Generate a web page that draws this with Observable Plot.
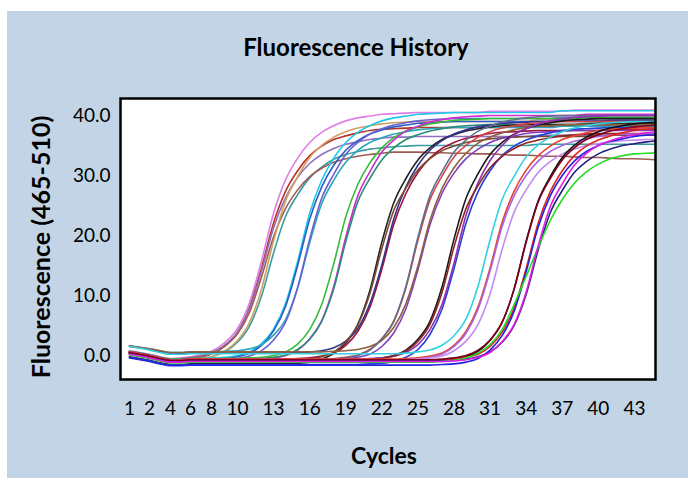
<!DOCTYPE html>
<html><head><meta charset="utf-8">
<script src="https://cdn.jsdelivr.net/npm/d3@7"></script>
<script src="https://cdn.jsdelivr.net/npm/@observablehq/plot@0.6"></script>
<style>
html,body{margin:0;padding:0;background:#fff;}
#wrap{position:relative;width:688px;height:481px;overflow:hidden;font-family:Lato,"DejaVu Sans",sans-serif;}
#panel{position:absolute;left:7px;top:11px;width:681px;height:467px;background:#c2d4e6;}
#chart{position:absolute;left:0;top:0;}
.lbl{position:absolute;font-weight:bold;color:#000;white-space:nowrap;line-height:1;}
#title{left:356px;top:47px;font-size:24px;transform:translate(-50%,-50%);}
#xlabel{left:384px;top:455px;font-size:23px;transform:translate(-50%,-50%);}
#ylabel{left:40px;top:247px;font-size:25px;transform:translate(-50%,-50%) rotate(-90deg);}
</style></head><body>
<div id="wrap"><div id="panel"></div><div id="chart"></div>
<div class="lbl" id="title">Fluorescence History</div>
<div class="lbl" id="xlabel">Cycles</div>
<div class="lbl" id="ylabel">Fluorescence (465-510)</div>
</div>
<script>
const cycles = [1,2,3,4,5,6,7,8,9,10,11,12,13,14,15,16,17,18,19,20,21,22,23,24,25,26,27,28,29,30,31,32,33,34,35,36,37,38,39,40,41,42,43,44,45];
const cycleTicks = [1,2,4,6,8,10,13,16,19,22,25,28,31,34,37,40,43];
const yTicks = [0,10,20,30,40];

const w01 = [0.8,0.2,-0.2,-0.5,-0.4,-0.2,0.1,0.7,2.1,4.5,8.8,15.8,23.7,29.3,32.9,35.5,37.2,38.3,39.1,39.6,39.9,40.2,40.3,40.4,40.5,40.5,40.5,40.5,40.5,40.5,40.7,40.7,40.7,40.7,40.7,40.7,40.7,40.9,40.9,40.9,40.9,40.9,40.9,40.9,40.9];
const w02 = [0.5,-0.1,-0.5,-0.8,-0.7,-0.5,-0.2,0.3,1.6,3.9,8.0,14.6,22.1,27.4,30.8,33.3,34.9,36.0,36.6,37.1,37.5,37.7,37.8,37.9,38.0,38.0,38.0,38.0,38.0,38.0,38.0,38.0,38.2,38.2,38.2,38.2,38.2,38.2,38.2,38.4,38.4,38.4,38.4,38.4,38.4];
const w03 = [0.7,0.1,-0.3,-0.6,-0.5,-0.3,-0.1,0.5,1.7,3.9,7.8,14.1,21.3,26.3,29.7,32.0,33.5,34.5,35.2,35.6,36.0,36.2,36.4,36.4,36.5,36.5,36.5,36.5,36.5,36.5,36.5,36.5,36.5,36.5,36.7,36.7,36.7,36.7,36.7,36.7,36.7,36.7,36.7,36.7,36.7];
const w04 = [0.4,-0.2,-0.6,-0.9,-0.9,-0.7,-0.5,-0.2,0.6,2.2,4.9,9.9,17.1,23.2,26.8,29.6,31.4,32.7,33.5,34.0,34.4,34.6,34.8,34.9,35.0,35.0,35.0,35.0,35.0,35.0,35.0,35.0,35.0,35.0,35.2,35.2,35.2,35.2,35.2,35.2,35.2,35.2,35.2,35.2,35.2];
const w05 = [0.6,0.0,-0.4,-0.7,-0.6,-0.4,-0.2,0.3,1.5,3.6,7.2,13.1,19.8,24.5,27.6,29.8,31.2,32.2,32.8,33.2,33.5,33.7,33.9,33.9,33.9,33.8,33.8,33.7,33.7,33.6,33.6,33.5,33.4,33.4,33.3,33.2,33.2,33.1,33.0,33.0,32.9,32.8,32.8,32.7,32.6];
const w06 = [0.3,-0.3,-0.7,-1.0,-1.0,-0.8,-0.6,-0.2,0.7,2.5,5.5,11.1,19.1,25.8,29.8,33.0,35.0,36.4,37.3,37.9,38.3,38.6,38.8,38.9,39.0,39.0,39.0,39.0,39.0,39.0,39.0,39.0,39.0,39.0,39.3,39.3,39.3,39.3,39.3,39.3,39.3,39.3,39.3,39.3,39.3];
const w07 = [0.7,0.1,-0.3,-0.6,-0.6,-0.5,-0.5,-0.4,-0.3,0.0,0.6,2.0,4.4,8.7,15.7,23.7,29.2,32.9,35.5,37.2,38.3,39.1,39.6,39.9,40.2,40.3,40.4,40.5,40.5,40.5,40.5,40.5,40.5,40.5,40.5,40.5,40.8,40.8,40.8,40.8,40.8,40.8,40.8,40.8,40.8];
const w08 = [0.5,-0.1,-0.5,-0.8,-0.8,-0.7,-0.7,-0.6,-0.5,-0.2,0.4,1.7,4.1,8.2,15.0,22.7,28.1,31.7,34.2,35.8,36.9,37.6,38.1,38.4,38.7,38.8,38.9,39.0,39.0,39.0,39.0,39.0,39.0,39.0,39.0,39.0,39.2,39.2,39.2,39.2,39.2,39.2,39.2,39.2,39.2];
const w09 = [1.6,1.1,0.8,0.5,0.5,0.6,0.6,0.6,0.7,0.8,1.1,1.8,3.4,6.0,11.3,18.8,25.3,29.2,32.2,34.2,35.5,36.3,36.9,37.3,37.6,37.8,37.9,38.0,38.0,38.0,38.0,38.0,38.0,38.0,38.0,38.0,38.2,38.2,38.2,38.2,38.2,38.2,38.2,38.2,38.2];
const w10 = [0.4,-0.2,-0.6,-0.9,-0.9,-0.8,-0.8,-0.8,-0.7,-0.5,-0.1,0.8,2.6,5.6,11.3,19.4,26.2,30.2,33.5,35.5,36.9,37.8,38.4,38.8,39.1,39.3,39.4,39.5,39.5,39.5,39.5,39.5,39.5,39.5,39.5,39.5,39.7,39.7,39.7,39.7,39.7,39.7,39.7,39.7,39.7];
const w11 = [0.7,0.1,-0.3,-0.6,-0.6,-0.5,-0.5,-0.5,-0.5,-0.5,-0.4,-0.3,0.0,0.6,1.9,4.3,8.5,15.3,23.1,28.5,32.1,34.6,36.3,37.4,38.1,38.6,38.9,39.2,39.3,39.4,39.5,39.5,39.5,39.5,39.5,39.5,39.5,39.5,39.7,39.7,39.7,39.7,39.7,39.7,39.7];
const w12 = [0.5,-0.1,-0.5,-0.8,-0.8,-0.7,-0.7,-0.7,-0.7,-0.7,-0.7,-0.6,-0.4,0.0,0.9,2.8,5.8,11.5,19.7,26.6,30.6,33.9,35.9,37.4,38.2,38.9,39.3,39.6,39.8,39.9,40.0,40.0,40.0,40.0,40.0,40.0,40.0,40.0,40.2,40.2,40.2,40.2,40.2,40.2,40.2];
const w13 = [0.6,0.0,-0.4,-0.7,-0.7,-0.6,-0.6,-0.6,-0.6,-0.6,-0.6,-0.5,-0.3,0.1,1.0,2.7,5.7,11.1,19.0,25.6,29.5,32.6,34.6,36.0,36.8,37.4,37.8,38.1,38.3,38.4,38.5,38.5,38.5,38.5,38.5,38.5,38.5,38.5,38.7,38.7,38.7,38.7,38.7,38.7,38.7];
const w14 = [-0.2,-0.8,-1.2,-1.5,-1.5,-1.4,-1.4,-1.4,-1.4,-1.4,-1.4,-1.4,-1.4,-1.4,-1.3,-1.1,-0.6,0.3,2.1,5.2,10.8,18.9,25.5,29.5,32.6,34.6,36.0,36.8,37.4,37.8,38.1,38.3,38.4,38.5,38.5,38.5,38.5,38.5,38.5,38.7,38.7,38.7,38.7,38.7,38.7];
const w15 = [0.6,0.0,-0.4,-0.7,-0.7,-0.6,-0.6,-0.6,-0.6,-0.6,-0.6,-0.6,-0.6,-0.6,-0.5,-0.4,-0.1,0.4,1.7,4.0,8.0,14.4,21.9,27.0,30.5,32.9,34.5,35.5,36.2,36.6,37.0,37.2,37.3,37.4,37.5,37.5,37.5,37.5,37.5,37.5,37.7,37.7,37.7,37.7,37.7];
const w16 = [1.5,1.0,0.6,0.3,0.3,0.4,0.4,0.4,0.4,0.4,0.4,0.4,0.4,0.4,0.5,0.6,0.8,1.3,2.4,4.5,8.6,15.1,22.8,28.1,31.7,34.2,35.8,36.9,37.6,38.1,38.4,38.7,38.8,38.9,39.0,39.0,39.0,39.0,39.0,39.0,39.2,39.2,39.2,39.2,39.2];
const w17 = [0.3,-0.3,-0.7,-1.0,-1.0,-0.9,-0.9,-0.9,-0.9,-0.9,-0.9,-0.9,-0.9,-0.9,-0.8,-0.6,-0.2,0.6,2.3,5.1,10.3,17.8,24.2,27.9,30.9,32.8,34.1,34.9,35.5,35.8,36.1,36.3,36.4,36.5,36.5,36.5,36.5,36.5,36.5,36.7,36.7,36.7,36.7,36.7,36.7];
const w18 = [0.6,0.0,-0.4,-0.7,-0.7,-0.6,-0.6,-0.6,-0.6,-0.6,-0.6,-0.6,-0.6,-0.6,-0.6,-0.6,-0.6,-0.5,-0.3,0.1,1.0,2.8,5.7,11.3,19.2,25.9,29.9,33.1,35.0,36.4,37.3,37.9,38.3,38.6,38.8,38.9,39.0,39.0,39.0,39.0,39.0,39.0,39.0,39.0,39.0];
const w19 = [0.4,-0.2,-0.6,-0.9,-0.9,-0.8,-0.8,-0.8,-0.8,-0.8,-0.8,-0.8,-0.8,-0.8,-0.8,-0.8,-0.8,-0.7,-0.6,-0.3,0.2,1.5,3.8,7.8,14.3,21.8,27.0,30.4,32.8,34.4,35.5,36.2,36.6,37.0,37.2,37.3,37.4,37.5,37.5,37.5,37.5,37.5,37.5,37.5,37.5];
const w20 = [1.6,1.1,0.8,0.5,0.5,0.6,0.6,0.6,0.6,0.6,0.6,0.6,0.6,0.6,0.6,0.6,0.6,0.7,0.8,1.0,1.5,2.5,4.7,8.6,14.9,22.5,27.8,31.3,33.7,35.4,36.4,37.1,37.6,38.0,38.2,38.3,38.4,38.5,38.5,38.5,38.5,38.5,38.5,38.5,38.5];
const w21 = [0.5,-0.1,-0.5,-0.8,-0.8,-0.7,-0.7,-0.7,-0.7,-0.7,-0.7,-0.7,-0.7,-0.7,-0.7,-0.7,-0.7,-0.6,-0.4,0.0,0.9,2.8,5.8,11.5,19.7,26.6,30.6,33.9,35.9,37.4,38.2,38.9,39.3,39.6,39.8,39.9,40.0,40.0,40.0,40.0,40.0,40.0,40.0,40.0,40.0];
const w22 = [0.5,-0.1,-0.5,-0.8,-0.8,-0.7,-0.7,-0.7,-0.7,-0.7,-0.7,-0.7,-0.7,-0.7,-0.7,-0.7,-0.7,-0.7,-0.7,-0.7,-0.6,-0.4,0.0,0.9,2.7,5.7,11.4,19.4,26.2,30.3,33.5,35.5,36.9,37.8,38.4,38.8,39.1,39.3,39.4,39.5,39.5,39.5,39.5,39.5,39.5];
const w23 = [-0.3,-0.9,-1.3,-1.6,-1.6,-1.5,-1.5,-1.5,-1.5,-1.5,-1.5,-1.5,-1.5,-1.5,-1.5,-1.5,-1.5,-1.5,-1.5,-1.5,-1.4,-1.3,-1.0,-0.3,1.0,3.5,7.7,14.5,22.1,27.3,30.8,33.3,34.9,35.9,36.6,37.1,37.5,37.7,37.8,37.9,38.0,38.0,38.0,38.0,38.0];
const w24 = [0.6,0.0,-0.4,-0.7,-0.7,-0.6,-0.6,-0.6,-0.6,-0.6,-0.6,-0.6,-0.6,-0.6,-0.6,-0.6,-0.6,-0.6,-0.6,-0.6,-0.5,-0.4,-0.1,0.5,1.8,4.3,8.5,15.4,23.4,28.8,32.5,35.0,36.8,37.8,38.6,39.1,39.4,39.7,39.8,39.9,40.0,40.0,40.0,40.0,40.0];
const w25 = [0.4,-0.2,-0.6,-0.9,-0.9,-0.8,-0.8,-0.8,-0.8,-0.8,-0.8,-0.8,-0.8,-0.8,-0.8,-0.8,-0.8,-0.8,-0.8,-0.8,-0.7,-0.5,-0.1,0.7,2.4,5.2,10.5,18.1,24.5,28.3,31.3,33.2,34.5,35.4,35.9,36.3,36.6,36.8,36.9,37.0,37.0,37.0,37.0,37.0,37.0];
const w26 = [1.5,0.9,0.5,0.2,0.2,0.3,0.3,0.3,0.3,0.3,0.3,0.3,0.3,0.3,0.3,0.3,0.3,0.3,0.3,0.3,0.3,0.3,0.3,0.4,0.6,0.9,1.7,3.3,6.1,11.6,19.3,26.0,29.9,33.1,35.1,36.4,37.3,37.9,38.3,38.6,38.8,38.9,39.0,39.0,39.0];
const w27 = [0.6,0.0,-0.4,-0.7,-0.7,-0.6,-0.6,-0.6,-0.6,-0.6,-0.6,-0.6,-0.6,-0.6,-0.6,-0.6,-0.6,-0.6,-0.6,-0.6,-0.6,-0.6,-0.6,-0.5,-0.4,-0.1,0.4,1.7,4.0,8.1,14.6,22.2,27.4,30.9,33.3,34.9,36.0,36.6,37.1,37.5,37.7,37.8,37.9,38.0,38.0];
const w28 = [0.4,-0.2,-0.6,-0.9,-0.9,-0.8,-0.8,-0.8,-0.8,-0.8,-0.8,-0.8,-0.8,-0.8,-0.8,-0.8,-0.8,-0.8,-0.8,-0.8,-0.8,-0.8,-0.8,-0.7,-0.6,-0.3,0.2,1.5,3.7,7.7,14.1,21.5,26.6,30.0,32.4,34.0,35.0,35.7,36.1,36.5,36.7,36.9,36.9,37.0,37.0];
const w29 = [0.5,-0.1,-0.5,-0.8,-0.8,-0.7,-0.7,-0.7,-0.7,-0.7,-0.7,-0.7,-0.7,-0.7,-0.7,-0.7,-0.7,-0.7,-0.7,-0.7,-0.7,-0.7,-0.7,-0.7,-0.6,-0.4,-0.1,0.8,2.4,5.2,10.3,17.7,23.9,27.6,30.5,32.3,33.6,34.4,35.0,35.3,35.6,35.8,35.9,36.0,36.0];
const w30 = [0.3,-0.3,-0.7,-1.0,-1.0,-0.9,-0.9,-0.9,-0.9,-0.9,-0.9,-0.9,-0.9,-0.9,-0.9,-0.9,-0.9,-0.9,-0.9,-0.9,-0.9,-0.9,-0.9,-0.9,-0.9,-0.9,-0.8,-0.6,-0.2,0.7,2.5,5.5,11.1,19.1,25.8,29.8,33.0,35.0,36.4,37.3,37.9,38.3,38.6,38.8,38.9];
const w31 = [0.4,-0.2,-0.6,-0.9,-0.9,-0.8,-0.8,-0.8,-0.8,-0.8,-0.8,-0.8,-0.8,-0.8,-0.8,-0.8,-0.8,-0.8,-0.8,-0.8,-0.8,-0.8,-0.8,-0.8,-0.8,-0.8,-0.7,-0.6,-0.3,0.2,1.5,3.9,7.9,14.5,22.1,27.3,30.8,33.3,34.9,35.9,36.6,37.1,37.5,37.7,37.8];
const w32 = [-0.4,-1.0,-1.4,-1.7,-1.7,-1.6,-1.6,-1.6,-1.6,-1.6,-1.6,-1.6,-1.6,-1.6,-1.6,-1.6,-1.6,-1.6,-1.6,-1.6,-1.6,-1.6,-1.6,-1.6,-1.6,-1.6,-1.5,-1.4,-1.1,-0.5,0.9,3.3,7.4,14.0,21.4,26.6,30.0,32.4,34.0,35.0,35.7,36.1,36.5,36.7,36.8];
const w33 = [0.3,-0.3,-0.7,-1.0,-1.0,-0.9,-0.9,-0.9,-0.9,-0.9,-0.9,-0.9,-0.9,-0.9,-0.9,-0.9,-0.9,-0.9,-0.9,-0.9,-0.9,-0.9,-0.9,-0.9,-0.9,-0.9,-0.9,-0.8,-0.6,-0.2,0.6,2.2,5.0,10.2,17.6,23.8,27.5,30.5,32.3,33.6,34.4,35.0,35.3,35.6,35.8];
const w34 = [0.1,-0.5,-0.9,-1.2,-1.2,-1.1,-1.1,-1.1,-1.1,-1.1,-1.1,-1.1,-1.1,-1.1,-1.1,-1.1,-1.1,-1.1,-1.1,-1.1,-1.1,-1.1,-1.1,-1.1,-1.1,-1.1,-1.0,-0.8,-0.4,0.4,1.8,4.3,8.5,13.2,18.0,22.5,26.0,28.7,30.6,31.9,32.8,33.3,33.6,33.7,33.8];
const w35 = [0.5,-0.1,-0.5,-0.8,-0.8,-0.7,-0.7,-0.7,-0.7,-0.7,-0.7,-0.7,-0.7,-0.7,-0.7,-0.7,-0.7,-0.7,-0.7,-0.7,-0.7,-0.7,-0.7,-0.7,-0.7,-0.7,-0.6,-0.4,0.0,0.9,2.6,5.6,11.1,18.9,25.6,29.5,32.6,34.6,36.0,36.8,37.4,37.8,38.1,38.3,38.4];
const w36 = [0.2,-0.4,-0.8,-1.1,-1.1,-1.0,-1.0,-1.0,-1.0,-1.0,-1.0,-1.0,-1.0,-1.0,-1.0,-1.0,-1.0,-1.0,-1.0,-1.0,-1.0,-1.0,-1.0,-1.0,-1.0,-1.0,-1.0,-0.9,-0.7,-0.3,0.5,2.3,5.2,10.6,18.3,24.8,28.6,31.7,33.7,35.0,35.8,36.4,36.8,37.1,37.3];

const wellColors = ["#e07ee6","#b8322c","#8e6fc0","#3a9c9f","#9e5a55","#cfa060",
  "#1ec8e8","#2b5ec5","#2aa7bd","#6b5fd0",
  "#35bb35","#cf2ccf","#2b8c7a",
  "#222222","#a3123a","#33338f","#7b4b2f",
  "#d54545","#7f3fbf","#8f5f3f","#5f6f8f",
  "#1a1a1a","#2443d6","#9332b3","#8f2222",
  "#33d1e0","#e3432f","#a765e5","#c48af0",
  "#111111","#e32222","#2323e3","#23237f","#22dd22","#800020","#e020e0"];

const series = [w01,w02,w03,w04,w05,w06,w07,w08,w09,w10,w11,w12,w13,w14,w15,w16,w17,w18,
  w19,w20,w21,w22,w23,w24,w25,w26,w27,w28,w29,w30,w31,w32,w33,w34,w35,w36];

const rows = [];
series.forEach((vals, i) => vals.forEach((v, j) => rows.push({well: i, cycle: cycles[j], value: v, color: wellColors[i]})));

const chart = Plot.plot({
  width: 688, height: 481,
  marginLeft: 120, marginRight: 33, marginTop: 98, marginBottom: 102,
  x: {type: "linear", domain: [0.27, 1, 2, 4, 6, 8, 10, 44.75], range: [120, 129, 149, 170, 190, 211, 237, 655],
      ticks: cycleTicks, tickSize: 0, tickPadding: 22, label: null},
  y: {domain: [-4, 42.83], ticks: yTicks, tickSize: 0, tickPadding: 10, tickFormat: d => d.toFixed(1), label: null},
  color: {type: "identity"},
  style: {background: "transparent", fontFamily: "Lato, sans-serif", fontSize: "19px", color: "#000", overflow: "visible"},
  marks: [
    Plot.frame({fill: "white"}),
    Plot.line(rows, {x: "cycle", y: "value", z: "well", stroke: "color", strokeWidth: 1.6, curve: "monotone-x", clip: true}),
    Plot.frame({stroke: "black", strokeWidth: 2.5})
  ]
});
document.getElementById("chart").appendChild(chart);
</script>
</body></html>
